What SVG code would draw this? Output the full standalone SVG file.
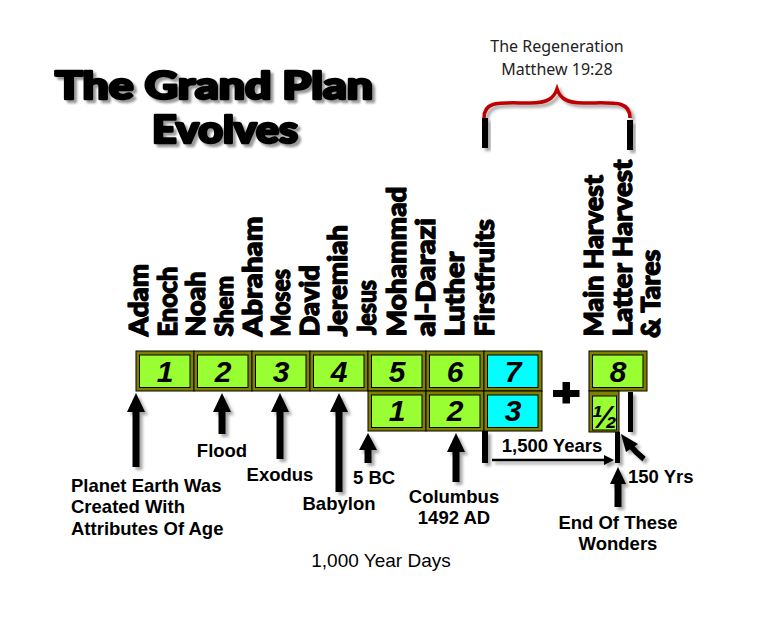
<svg xmlns="http://www.w3.org/2000/svg" width="761" height="620" viewBox="0 0 761 620">
<defs>
<filter id="sh" x="-20%" y="-20%" width="160%" height="160%"><feDropShadow dx="3" dy="3" stdDeviation="1.5" flood-color="#000" flood-opacity="0.35"/></filter>
<filter id="tsh" x="-10%" y="-20%" width="130%" height="160%"><feDropShadow dx="3" dy="3" stdDeviation="1.2" flood-color="#000" flood-opacity="0.4"/></filter>
</defs>
<style>
.title{font-family:Lato,"DejaVu Sans",sans-serif;font-weight:900;font-size:37px;fill:#000;stroke:#000;stroke-width:2.6;stroke-linejoin:round}
.name{font-family:Lato,"DejaVu Sans",sans-serif;font-weight:900;font-size:27px;fill:#000;stroke:#000;stroke-width:1.3;stroke-linejoin:round}
.lbl{font-family:"Liberation Sans",Arial,sans-serif;font-weight:bold;font-size:18.5px;fill:#000;text-anchor:middle}
.num{font-family:"Liberation Sans",Arial,sans-serif;font-weight:bold;font-style:italic;font-size:30px;fill:#000;text-anchor:middle}
.reg{font-family:"Noto Sans","Open Sans",sans-serif;font-size:16px;fill:#222;text-anchor:middle}
.outer{fill:#808000;stroke:#000;stroke-width:1}
.g{fill:#99FF33;stroke:#000;stroke-width:1}
.c{fill:#00FFFF;stroke:#000;stroke-width:1}
.bar{fill:#000}
</style>
<rect width="761" height="620" fill="#fff"/>

<g id="title" filter="url(#tsh)">
<text class="title" x="55" y="99" textLength="318" lengthAdjust="spacingAndGlyphs">The Grand Plan</text>
<text class="title" x="152" y="143" textLength="146" lengthAdjust="spacingAndGlyphs">Evolves</text>
</g>

<g id="regeneration">
<text class="reg" x="557" y="52">The Regeneration</text>
<text class="reg" x="557" y="75">Matthew 19:28</text>
<path d="M484,118 C484,100 500,103 530,103 C548,103 554,98 557,89 C560,98 566,103 584,103 C614,103 630,100 630,118" fill="none" stroke="#C00000" stroke-width="3.5" filter="url(#sh)"/>
<rect class="bar" x="482" y="118" width="6" height="30" filter="url(#sh)"/>
<rect class="bar" x="627" y="120" width="6" height="30" filter="url(#sh)"/>
</g>

<g id="names">
<text class="name" transform="translate(148,336.5) rotate(-90)" textLength="72.5" lengthAdjust="spacingAndGlyphs">Adam</text>
<text class="name" transform="translate(176.5,336.5) rotate(-90)" textLength="70" lengthAdjust="spacingAndGlyphs">Enoch</text>
<text class="name" transform="translate(205,336.5) rotate(-90)" textLength="65" lengthAdjust="spacingAndGlyphs">Noah</text>
<text class="name" transform="translate(233,336.5) rotate(-90)" textLength="60.5" lengthAdjust="spacingAndGlyphs" style="font-size:24px">Shem</text>
<text class="name" transform="translate(262,336.5) rotate(-90)" textLength="120" lengthAdjust="spacingAndGlyphs">Abraham</text>
<text class="name" transform="translate(290,336.5) rotate(-90)" textLength="67.5" lengthAdjust="spacingAndGlyphs">Moses</text>
<text class="name" transform="translate(319,336.5) rotate(-90)" textLength="71.5" lengthAdjust="spacingAndGlyphs">David</text>
<text class="name" transform="translate(347,336.5) rotate(-90)" textLength="111.5" lengthAdjust="spacingAndGlyphs">Jeremiah</text>
<text class="name" transform="translate(376,335) rotate(-90)" textLength="55" lengthAdjust="spacingAndGlyphs">Jesus</text>
<text class="name" transform="translate(406,336.5) rotate(-90)" textLength="150" lengthAdjust="spacingAndGlyphs">Mohammad</text>
<text class="name" transform="translate(435,336.5) rotate(-90)" textLength="118.5" lengthAdjust="spacingAndGlyphs">al-Darazi</text>
<text class="name" transform="translate(464,336.5) rotate(-90)" textLength="85" lengthAdjust="spacingAndGlyphs">Luther</text>
<text class="name" transform="translate(494,336.5) rotate(-90)" textLength="117.5" lengthAdjust="spacingAndGlyphs">Firstfruits</text>
<text class="name" transform="translate(603,336.5) rotate(-90)" textLength="161.5" lengthAdjust="spacingAndGlyphs">Main Harvest</text>
<text class="name" transform="translate(631.5,336.5) rotate(-90)" textLength="177" lengthAdjust="spacingAndGlyphs">Latter Harvest</text>
<text class="name" transform="translate(660,338) rotate(-90)" textLength="88.5" lengthAdjust="spacingAndGlyphs">&amp; Tares</text>
</g>

<g id="cells">
<g id="cell1"><rect class="outer" x="136" y="351" width="58" height="40"/><rect class="g" x="139.5" y="355" width="50.5" height="32.5"/><text class="num" x="165" y="382">1</text></g>
<g id="cell2"><rect class="outer" x="194" y="351" width="58" height="40"/><rect class="g" x="197.5" y="355" width="50.5" height="32.5"/><text class="num" x="223" y="382">2</text></g>
<g id="cell3"><rect class="outer" x="252" y="351" width="58" height="40"/><rect class="g" x="255.5" y="355" width="50.5" height="32.5"/><text class="num" x="281" y="382">3</text></g>
<g id="cell4"><rect class="outer" x="310" y="351" width="58" height="40"/><rect class="g" x="313.5" y="355" width="50.5" height="32.5"/><text class="num" x="339" y="382">4</text></g>
<g id="cell5"><rect class="outer" x="368" y="351" width="58" height="40"/><rect class="g" x="371.5" y="355" width="50.5" height="32.5"/><text class="num" x="397" y="382">5</text></g>
<g id="cell6"><rect class="outer" x="426" y="351" width="58" height="40"/><rect class="g" x="429.5" y="355" width="50.5" height="32.5"/><text class="num" x="455" y="382">6</text></g>
<g id="cell7"><rect class="outer" x="484" y="351" width="58" height="40"/><rect class="c" x="487.5" y="355" width="50.5" height="32.5"/><text class="num" x="513" y="382">7</text></g>
<g id="cell2-1"><rect class="outer" x="368" y="391" width="58" height="40"/><rect class="g" x="371.5" y="395" width="50.5" height="32.5"/><text class="num" x="397" y="421">1</text></g>
<g id="cell2-2"><rect class="outer" x="426" y="391" width="58" height="40"/><rect class="g" x="429.5" y="395" width="50.5" height="32.5"/><text class="num" x="455" y="421">2</text></g>
<g id="cell2-3"><rect class="outer" x="484" y="391" width="58" height="40"/><rect class="c" x="487.5" y="395" width="50.5" height="32.5"/><text class="num" x="513" y="421">3</text></g>
<g id="plus"><rect class="bar" x="553" y="390" width="26.5" height="7"/><rect class="bar" x="562.5" y="382" width="7.5" height="21.5"/></g>
<g id="cell8"><rect class="outer" x="589" y="351" width="58" height="40"/><rect class="g" x="592.5" y="355" width="50.5" height="32.5"/><text class="num" x="618" y="382">8</text></g>
<g id="cellhalf"><rect class="outer" x="589" y="391" width="30" height="41"/><rect class="g" x="592.5" y="396" width="24" height="34"/><text class="num" x="604.5" y="428" style="font-size:31px">½</text></g>
</g>

<g id="connectors" filter="url(#sh)">
<path id="a-planet" d="M136,393 L145,412 L139.5,412 L139.5,467 L132.5,467 L132.5,412 L127,412 Z"/>
<path id="a-flood" d="M222,393 L231,412 L225.5,412 L225.5,434 L218.5,434 L218.5,412 L213,412 Z"/>
<path id="a-exodus" d="M280,393 L289,412 L283.5,412 L283.5,459 L276.5,459 L276.5,412 L271,412 Z"/>
<path id="a-babylon" d="M339,393 L348,412 L342.5,412 L342.5,492 L335.5,492 L335.5,412 L330,412 Z"/>
<path id="a-5bc" d="M368,433 L377,450 L371.5,450 L371.5,463 L364.5,463 L364.5,450 L359,450 Z"/>
<path id="a-columbus" d="M456,433 L465,452 L459.5,452 L459.5,482 L452.5,482 L452.5,452 L447,452 Z"/>
<path id="a-end" d="M618,467 L626,484 L621.5,484 L621.5,507 L614.5,507 L614.5,484 L610,484 Z"/>
<rect id="b-1500" x="482" y="431" width="6" height="32"/>
<rect id="b-half" x="615" y="432" width="5" height="31"/>
<rect id="b-8" x="628" y="392" width="5" height="40"/>
<line x1="492" y1="460" x2="606" y2="460" stroke="#000" stroke-width="2.5"/>
<path d="M614,460 L604,455 L604,465 Z"/>
<path d="M644,459 Q636,453 629,444" fill="none" stroke="#000" stroke-width="5.5"/>
<path d="M621,434 L638,444 L626,452 Z"/>
</g>

<g id="labels">
<text class="lbl" x="71" y="492" style="text-anchor:start">Planet Earth Was</text>
<text class="lbl" x="71" y="513" style="text-anchor:start">Created With</text>
<text class="lbl" x="71" y="535" style="text-anchor:start">Attributes Of Age</text>
<text class="lbl" x="222" y="457">Flood</text>
<text class="lbl" x="280" y="481">Exodus</text>
<text class="lbl" x="339" y="510">Babylon</text>
<text class="lbl" x="353" y="484" style="text-anchor:start">5 BC</text>
<text class="lbl" x="454" y="503">Columbus</text>
<text class="lbl" x="454" y="524">1492 AD</text>
<text class="lbl" x="552" y="452">1,500 Years</text>
<text class="lbl" x="628" y="483" style="text-anchor:start">150 Yrs</text>
<text class="lbl" x="618" y="529">End Of These</text>
<text class="lbl" x="618" y="550">Wonders</text>
<text x="381" y="567" style="font-family:'Liberation Sans',Arial,sans-serif;font-size:19px;fill:#000;text-anchor:middle">1,000 Year Days</text>
</g>
</svg>
